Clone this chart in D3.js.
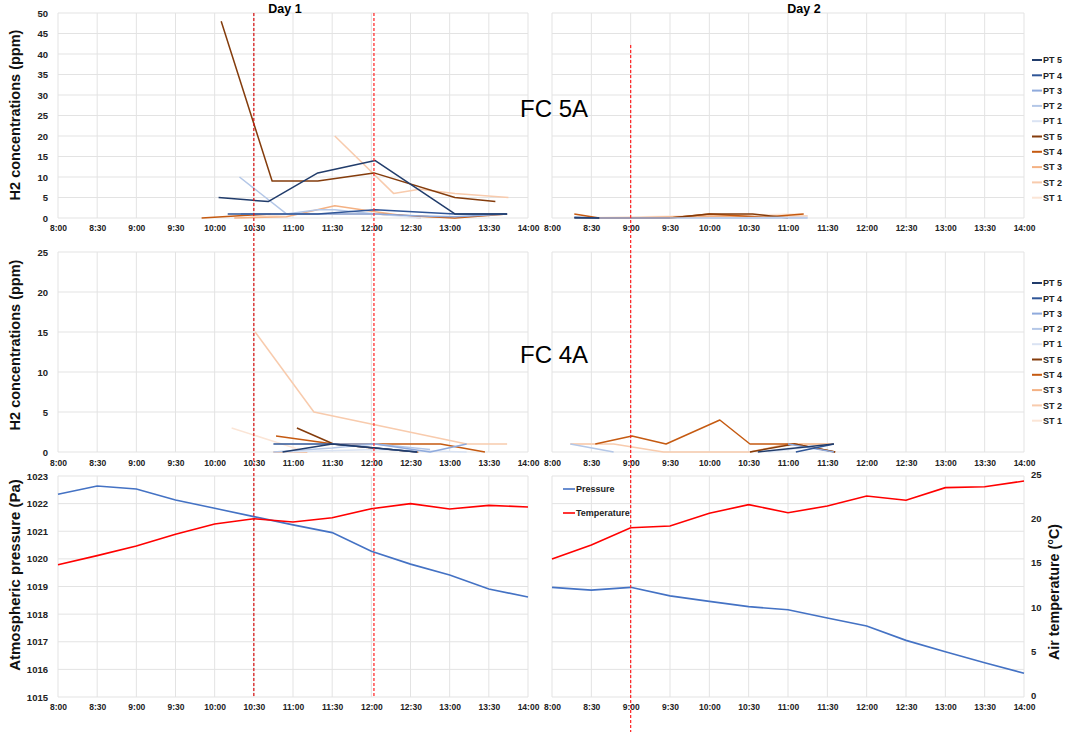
<!DOCTYPE html>
<html><head><meta charset="utf-8">
<script src="https://cdnjs.cloudflare.com/ajax/libs/d3/7.8.5/d3.min.js"></script>
<style>body{margin:0;background:#fff} text{font-family:"Liberation Sans",Arial,sans-serif}</style>
</head><body><svg id="c" width="1065" height="732"></svg>
<script>
// ---------- DATA ----------
const tickTimes = ["8:00","8:30","9:00","9:30","10:00","10:30","11:00","11:30","12:00","12:30","13:00","13:30","14:00"];
const seriesNames = ["PT 5","PT 4","PT 3","PT 2","PT 1","ST 5","ST 4","ST 3","ST 2","ST 1"];
const seriesColors = ["#213c6b","#2f5597","#8faadc","#b4c7e7","#dae3f3","#843c0c","#c55a11","#f4b183","#f8cbad","#fbe5d6"];
const h2TicksTop = [0,5,10,15,20,25,30,35,40,45,50];
const h2TicksMid = [0,5,10,15,20,25];
const pressureTicks = [1015,1016,1017,1018,1019,1020,1021,1022,1023];
const tempTicks = [0,5,10,15,20,25];

// FC 5A, Day 1 : [series, times, values]
const fc5aDay1 = [
  ["PT 5", ["10:03","10:41","11:19","12:03","13:04","13:44"], [5,4,11,14,1,1]],
  ["PT 4", ["10:10","10:43","11:19","12:03","13:04","13:44"], [1,1,1,2,1,1]],
  ["PT 3", ["10:20","10:43","11:19","12:03","12:38","13:04","13:44"], [1,1,1,1,0.5,0.3,1]],
  ["PT 2", ["10:19","10:55","11:19","11:32","12:03"], [10,1,2,2,1]],
  ["PT 1", ["10:43","12:03","12:38"], [1,1,0]],
  ["ST 5", ["10:05","10:44","11:19","12:02","13:04","13:35"], [48,9,9,11,5,4]],
  ["ST 4", ["9:50","10:43","12:03","13:04","13:44"], [0,1,1,0,1]],
  ["ST 3", ["10:15","10:55","11:32","12:03","12:38"], [0,0.3,3,1.5,0]],
  ["ST 2", ["11:32","12:17","12:37","13:04","13:45"], [20,6,7,6,5]],
  ["ST 1", ["10:20","11:00","12:03","13:04"], [0,1,1,0]]
];
// FC 5A, Day 2
const fc5aDay2 = [
  ["PT 5", ["8:17","8:36"], [0,0]],
  ["PT 4", ["8:17","8:36"], [0.2,0]],
  ["PT 3", ["8:36","9:30"], [0,0]],
  ["PT 2", ["9:30","10:35","11:15"], [0,0,0]],
  ["PT 1", ["10:00","11:15"], [0,0.2]],
  ["ST 5", ["9:30","10:00","10:33","11:00"], [0,1,1,0]],
  ["ST 4", ["8:17","8:36","9:30","10:00","10:41","11:12"], [1,0,0,1,0.2,1]],
  ["ST 3", ["8:36","9:00","10:00","11:00"], [0,0,0.5,0.3]],
  ["ST 2", ["8:36","11:15"], [0,0.5]],
  ["ST 1", ["8:17","11:11"], [0,1]]
];
// FC 4A, Day 1
const fc4aDay1 = [
  ["PT 5", ["10:52","11:30","12:03","12:35"], [0,1,0.5,0]],
  ["PT 4", ["10:45","11:30","12:03","12:35"], [1,1,0.5,0]],
  ["PT 3", ["11:30","12:03","12:45","13:13"], [1,1,0,1]],
  ["PT 2", ["10:45","11:30","12:03","12:45"], [0,0.5,1,0.3]],
  ["PT 1", ["10:52","12:03","13:13"], [0,0.3,0]],
  ["ST 5", ["11:03","11:31","12:01","12:36"], [3,1,0.5,0]],
  ["ST 4", ["10:47","11:31","12:53","13:27"], [2,1,1,0]],
  ["ST 3", ["10:45","11:11"], [0,0]],
  ["ST 2", ["10:31","11:16","13:13","13:44"], [15,5,1,1]],
  ["ST 1", ["10:13","11:05"], [3,0.3]]
];
// FC 4A, Day 2
const fc4aDay2 = [
  ["PT 5", ["10:37","11:35"], [0,1]],
  ["PT 4", ["11:06","11:35"], [0,1]],
  ["PT 3", ["11:00","11:35"], [1,0]],
  ["PT 2", ["8:14","8:47"], [1,0]],
  ["PT 1", ["10:45","11:20"], [0,0.7]],
  ["ST 5", ["10:31","11:05","11:36"], [0,1,0]],
  ["ST 4", ["8:33","9:01","9:27","10:08","10:31","11:05","11:36"], [1,2,1,4,1,1,0]],
  ["ST 3", ["10:31","11:00","11:35"], [0,1,1]],
  ["ST 2", ["8:14","8:47","9:25","10:31"], [1,1,0,0]],
  ["ST 1", ["8:14","8:33"], [1,1]]
];
// Weather (at tickTimes)
const pressureDay1 = [1022.34,1022.64,1022.53,1022.13,1021.83,1021.53,1021.23,1020.95,1020.28,1019.81,1019.42,1018.91,1018.62];
const tempDay1     = [14.97,15.99,17.08,18.4,19.57,20.17,19.8,20.28,21.3,21.87,21.27,21.68,21.49];
const pressureDay2 = [1018.97,1018.87,1018.97,1018.66,1018.46,1018.27,1018.16,1017.86,1017.57,1017.05,1016.64,1016.24,1015.86];
const tempDay2     = [15.6,17.2,19.15,19.34,20.78,21.76,20.85,21.6,22.74,22.25,23.68,23.79,24.43];
const markerDay1 = ["10:30","12:02"];
const markerDay2 = ["9:00"];

// ---------- DRAW ----------
const toMin = t => { const p = t.split(":"); return +p[0]*60 + +p[1]; };
const svg = d3.select("#c");
const colorOf = d3.scaleOrdinal(seriesNames, seriesColors);

const xL = d3.scaleLinear([480,840],[58,528]);
const xR = d3.scaleLinear([480,840],[552,1024]);
const yTop = d3.scaleLinear([0,50],[218,13]);
const yMid = d3.scaleLinear([0,25],[452,252]);
const yP = d3.scaleLinear([1015,1023],[697,476]);
const yT = d3.scaleLinear([0,25],[697,476]);
const tickMins = tickTimes.map(toMin);

function grid(x, y, yticks) {
  const g = svg.append("g");
  const [x0,x1] = x.range(), [y0,y1] = y.range();
  g.selectAll(".v").data(tickMins).join("line")
    .attr("x1", d => x(d)).attr("x2", d => x(d)).attr("y1", y0).attr("y2", y1)
    .attr("stroke", "#e3e3e3").attr("stroke-width", 1);
  g.selectAll(".h").data(yticks).join("line")
    .attr("x1", x0).attr("x2", x1).attr("y1", d => y(d)).attr("y2", d => y(d))
    .attr("stroke", "#e3e3e3").attr("stroke-width", 1);
}
function styleAxisText(g, size) {
  g.selectAll("text").attr("font-size", size).attr("font-weight", "bold").attr("fill", "#222")
    .attr("font-family", '"Liberation Sans", Arial, sans-serif');
}
function xAxis(x, yPos) {
  const ax = d3.axisBottom(x).tickValues(tickMins).tickFormat((d,i) => tickTimes[i]).tickSize(0).tickPadding(0);
  const g = svg.append("g").attr("transform", `translate(0,${yPos})`).call(ax);
  g.select(".domain").remove();
  styleAxisText(g, 8.5);
}
function yAxisLeft(y, ticks, xPos) {
  const ax = d3.axisLeft(y).tickValues(ticks).tickFormat(d3.format("d")).tickSize(0).tickPadding(0);
  const g = svg.append("g").attr("transform", `translate(${xPos},0)`).call(ax);
  g.select(".domain").remove();
  styleAxisText(g, 9.5);
}
function h2Lines(data, x, y) {
  const line = d3.line().x(d => x(d[0])).y(d => y(d[1]));
  const order = data.slice().reverse();
  svg.append("g").selectAll("path").data(order).join("path")
    .attr("d", s => line(s[1].map((t,i) => [toMin(t), s[2][i]])))
    .attr("fill", "none").attr("stroke", s => colorOf(s[0])).attr("stroke-width", 1.5)
    .attr("stroke-linejoin", "round");
}
function legendH2(yStart) {
  const g = svg.append("g");
  seriesNames.forEach((n,i) => {
    const yy = yStart + i*15.3;
    g.append("line").attr("x1", 1032).attr("x2", 1042).attr("y1", yy).attr("y2", yy)
      .attr("stroke", colorOf(n)).attr("stroke-width", 2);
    g.append("text").attr("x", 1043).attr("y", yy + 3.2).text(n)
      .attr("font-size", 9).attr("font-weight", "bold").attr("fill", "#222");
  });
}
function weather(x, pVals, tVals) {
  const lp = d3.line().x((d,i) => x(tickMins[i])).y(d => yP(d));
  const lt = d3.line().x((d,i) => x(tickMins[i])).y(d => yT(d));
  svg.append("path").attr("d", lp(pVals)).attr("fill","none").attr("stroke","#4472c4").attr("stroke-width",1.6);
  svg.append("path").attr("d", lt(tVals)).attr("fill","none").attr("stroke","#ff0000").attr("stroke-width",1.6);
}

grid(xL, yTop, h2TicksTop); grid(xR, yTop, h2TicksTop);
grid(xL, yMid, h2TicksMid); grid(xR, yMid, h2TicksMid);
grid(xL, yP, pressureTicks); grid(xR, yP, pressureTicks);

xAxis(xL, 225); xAxis(xR, 225);
xAxis(xL, 460); xAxis(xR, 460);
xAxis(xL, 704); xAxis(xR, 704);
yAxisLeft(yTop, h2TicksTop, 48);
yAxisLeft(yMid, h2TicksMid, 48);
yAxisLeft(yP, pressureTicks, 48);
{
  const ax = d3.axisRight(yT).tickValues(tempTicks).tickSize(0).tickPadding(0);
  const g = svg.append("g").attr("transform", "translate(1031,-1.5)").call(ax);
  g.select(".domain").remove();
  styleAxisText(g, 9.5);
}

h2Lines(fc5aDay1, d => xL(d), yTop);
h2Lines(fc5aDay2, d => xR(d), yTop);
h2Lines(fc4aDay1, d => xL(d), yMid);
h2Lines(fc4aDay2, d => xR(d), yMid);
weather(xL, pressureDay1, tempDay1);
weather(xR, pressureDay2, tempDay2);

legendH2(60);
legendH2(283);
[["Pressure","#4472c4",489],["Temperature","#ff0000",513]].forEach(([n,c,yy]) => {
  svg.append("line").attr("x1",563).attr("x2",575).attr("y1",yy).attr("y2",yy).attr("stroke",c).attr("stroke-width",1.6);
  svg.append("text").attr("x",576).attr("y",yy+3.2).text(n).attr("font-size",9).attr("font-weight","bold").attr("fill","#222");
});

svg.append("text").attr("x",285).attr("y",13).attr("text-anchor","middle").attr("font-size",12.5).attr("font-weight","bold").text("Day 1");
svg.append("text").attr("x",804).attr("y",13).attr("text-anchor","middle").attr("font-size",12.5).attr("font-weight","bold").text("Day 2");
svg.append("text").attr("x",520).attr("y",117).attr("font-size",24).text("FC 5A");
svg.append("text").attr("x",520).attr("y",363).attr("font-size",24).text("FC 4A");
function vLabel(txt, x, y, size) {
  svg.append("text").attr("transform",`translate(${x},${y}) rotate(-90)`).attr("text-anchor","middle")
    .attr("font-size",size).attr("font-weight","bold").attr("fill","#111").text(txt);
}
vLabel("H2 concentrations (ppm)", 20, 115, 14.5);
vLabel("H2 concentrations (ppm)", 20, 345, 14.5);
vLabel("Atmospheric pressure (Pa)", 20, 575, 15);
vLabel("Air temperature (°C)", 1059, 592, 14.3);

markerDay1.forEach((t,i) => {
  svg.append("line").attr("x1",xL(toMin(t))).attr("x2",xL(toMin(t))).attr("y1",13).attr("y2",698)
    .attr("stroke", i === 0 ? "#d81010" : "#ff2020").attr("stroke-width",1.2).attr("stroke-dasharray","3,2");
});
markerDay2.forEach(t => {
  svg.append("line").attr("x1",xR(toMin(t))).attr("x2",xR(toMin(t))).attr("y1",45).attr("y2",732)
    .attr("stroke","#ff2020").attr("stroke-width",1.2).attr("stroke-dasharray","3,2");
});
</script></body></html>
